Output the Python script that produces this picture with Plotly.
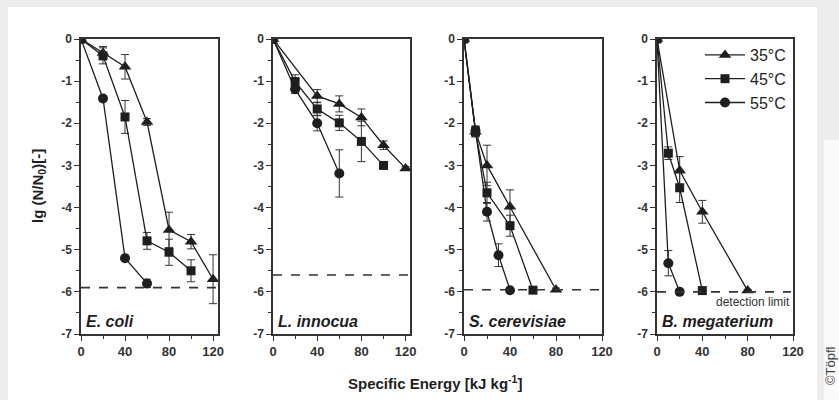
import plotly.graph_objects as go

W, H = 839, 400

# ---------------- data ----------------
species = ["E. coli", "L. innocua", "S. cerevisiae", "B. megaterium"]
temps = ["35°C", "45°C", "55°C"]
detection_limits = [-5.9, -5.6, -5.95, -6.0]

# E. coli
ecoli_35_x = [0, 20, 40, 60, 80, 100, 120]
ecoli_35_y = [0, -0.33, -0.66, -1.97, -4.53, -4.81, -5.7]
ecoli_35_e = [0, 0.15, 0.29, 0.08, 0.42, 0.17, 0.58]
ecoli_45_x = [0, 20, 40, 60, 80, 100]
ecoli_45_y = [0, -0.4, -1.85, -4.79, -5.06, -5.5]
ecoli_45_e = [0, 0.19, 0.39, 0.2, 0.31, 0.26]
ecoli_55_x = [0, 20, 40, 60]
ecoli_55_y = [0, -1.41, -5.2, -5.8]
ecoli_55_e = [0, 0.05, 0.05, 0.1]

# L. innocua
linn_35_x = [0, 40, 60, 80, 100, 120]
linn_35_y = [0, -1.35, -1.54, -1.86, -2.52, -3.07]
linn_35_e = [0, 0.15, 0.19, 0.2, 0.1, 0.04]
linn_45_x = [0, 20, 40, 60, 80, 100]
linn_45_y = [0, -1.01, -1.66, -1.99, -2.43, -3.0]
linn_45_e = [0, 0.16, 0.15, 0.18, 0.48, 0.04]
linn_55_x = [0, 20, 40, 60]
linn_55_y = [0, -1.19, -2.0, -3.19]
linn_55_e = [0, 0.1, 0.18, 0.56]

# S. cerevisiae
scer_35_x = [0, 10, 20, 40, 80]
scer_35_y = [0, -2.2, -3.0, -3.98, -5.95]
scer_35_e = [0, 0.12, 0.48, 0.4, 0.04]
scer_45_x = [0, 10, 20, 40, 60]
scer_45_y = [0, -2.2, -3.65, -4.43, -5.96]
scer_45_e = [0, 0.12, 0.25, 0.25, 0.04]
scer_55_x = [0, 10, 20, 30, 40]
scer_55_y = [0, -2.18, -4.1, -5.13, -5.96]
scer_55_e = [0, 0.12, 0.22, 0.27, 0.04]

# B. megaterium
bmeg_35_x = [0, 20, 40, 80]
bmeg_35_y = [0, -3.12, -4.1, -5.97]
bmeg_35_e = [0, 0.33, 0.27, 0.03]
bmeg_45_x = [0, 10, 20, 40]
bmeg_45_y = [0, -2.71, -3.53, -5.97]
bmeg_45_e = [0, 0.15, 0.35, 0.03]
bmeg_55_x = [0, 10, 20]
bmeg_55_y = [0, -5.32, -6.0]
bmeg_55_e = [0, 0.3, 0.03]

panels = [
    [(ecoli_35_x, ecoli_35_y, ecoli_35_e), (ecoli_45_x, ecoli_45_y, ecoli_45_e), (ecoli_55_x, ecoli_55_y, ecoli_55_e)],
    [(linn_35_x, linn_35_y, linn_35_e), (linn_45_x, linn_45_y, linn_45_e), (linn_55_x, linn_55_y, linn_55_e)],
    [(scer_35_x, scer_35_y, scer_35_e), (scer_45_x, scer_45_y, scer_45_e), (scer_55_x, scer_55_y, scer_55_e)],
    [(bmeg_35_x, bmeg_35_y, bmeg_35_e), (bmeg_45_x, bmeg_45_y, bmeg_45_e), (bmeg_55_x, bmeg_55_y, bmeg_55_e)],
]

x_ticks = [0, 40, 80, 120]
x_minor = [20, 60, 100]
y_ticks = [0, -1, -2, -3, -4, -5, -6, -7]
y_ticktext = ["0", "-1", "-2", "-3", "-4", "-5", "-6", "-7"]
y_minor = [-0.5, -1.5, -2.5, -3.5, -4.5, -5.5, -6.5]

# ---------------- style ----------------
INK = "#1e1e1e"
AX = "#333333"
FONT = "Liberation Sans, Arial, sans-serif"
symbols = ["triangle-up", "square", "circle"]
msizes = [11, 9, 10]

x_px = [(81, 218), (273, 410), (464, 602), (657, 793)]
x_ranges = [[0, 124.5], [0, 124], [0, 120], [0, 120]]
y_px = (39, 334)
ydom = [1 - y_px[1] / H, 1 - y_px[0] / H]

fig = go.Figure()

for p, series in enumerate(panels):
    xa = "x" if p == 0 else f"x{p+1}"
    ya = "y" if p == 0 else f"y{p+1}"
    for s, (xs, ys, es) in enumerate(series):
        fig.add_trace(go.Scatter(
            x=xs, y=ys, xaxis=xa, yaxis=ya,
            mode="lines+markers",
            name=temps[s], legendgroup=temps[s], showlegend=(p == 0),
            line=dict(color=INK, width=1.3),
            marker=dict(symbol=symbols[s], size=msizes[s], color=INK),
            error_y=dict(type="data", array=es, visible=True, color=AX, thickness=1, width=4),
        ))

layout = dict(
    template="none",
    width=W, height=H,
    margin=dict(l=0, r=0, t=0, b=0, pad=0, autoexpand=False),
    paper_bgcolor="#ededed",
    plot_bgcolor="white",
    font=dict(family=FONT, color=AX),
    showlegend=True,
    legend=dict(x=700 / W, y=1 - 38 / H, xanchor="left", yanchor="top",
                bgcolor="rgba(0,0,0,0)", font=dict(size=16, color=INK, family=FONT),
                itemwidth=40, tracegroupgap=0),
)

shapes = [
    # white card
    dict(type="rect", xref="paper", yref="paper", x0=8 / W, x1=817 / W, y0=0, y1=1 - 7 / H,
         fillcolor="white", line=dict(width=0), layer="below"),
    # lighter area at lower right beside the card shadow
    dict(type="rect", xref="paper", yref="paper", x0=824 / W, x1=1, y0=0, y1=1 - 140 / H,
         fillcolor="#fafafa", line=dict(width=0), layer="below"),
]
annotations = []

for p in range(4):
    sx = "" if p == 0 else str(p + 1)
    layout[f"xaxis{sx}"] = dict(
        domain=[x_px[p][0] / W, x_px[p][1] / W],
        anchor=f"y{sx}", range=x_ranges[p], automargin=False,
        showline=True, mirror=True, linecolor=AX, linewidth=1.5,
        showgrid=False, zeroline=False,
        ticks="outside", ticklen=5, tickwidth=1.2, tickcolor=AX,
        tickmode="array", tickvals=x_ticks, ticktext=[str(v) for v in x_ticks],
        minor=dict(tickmode="array", tickvals=x_minor, ticks="outside", ticklen=3, tickwidth=1.2, tickcolor=AX),
        tickfont=dict(size=13, family=FONT, color=AX, weight="bold"),
        fixedrange=True,
    )
    layout[f"yaxis{sx}"] = dict(
        domain=ydom, anchor=f"x{sx}", range=[-7, 0], automargin=False,
        showline=True, mirror=True, linecolor=AX, linewidth=1.5,
        showgrid=False, zeroline=False,
        ticks="outside", ticklen=5, tickwidth=1.2, tickcolor=AX,
        tickmode="array", tickvals=y_ticks, ticktext=y_ticktext,
        minor=dict(tickmode="array", tickvals=y_minor, ticks="outside", ticklen=3, tickwidth=1.2, tickcolor=AX),
        tickfont=dict(size=12, family=FONT, color=AX, weight="bold"),
        fixedrange=True,
    )
    xr = "x" if p == 0 else f"x{p+1}"
    yr = "y" if p == 0 else f"y{p+1}"
    shapes.append(dict(type="line", xref=f"{xr} domain", yref=yr, x0=0, x1=0.985,
                       y0=detection_limits[p], y1=detection_limits[p],
                       line=dict(color=AX, width=1.6, dash="dash")))
    annotations.append(dict(xref=f"{xr} domain", yref=yr, x=0.02, y=-6.7, xanchor="left", yanchor="middle",
                            text=f"<i>{species[p]}</i>", showarrow=False,
                            font=dict(size=16, color=INK, family=FONT, weight="bold")))

annotations.append(dict(xref="x4 domain", yref="y4", x=0.995, y=-6.24, xanchor="right", yanchor="middle",
                        text="detection limit", showarrow=False,
                        font=dict(size=12, color=AX, family=FONT)))
annotations.append(dict(xref="paper", yref="paper", x=38 / W, y=1 - 186 / H, xanchor="center", yanchor="middle",
                        text="lg (N/N<sub>0</sub>)[-]", textangle=-90, showarrow=False,
                        font=dict(size=15, color=INK, family=FONT, weight="bold")))
annotations.append(dict(xref="paper", yref="paper", x=435 / W, y=1 - 382 / H, xanchor="center", yanchor="middle",
                        text="Specific Energy [kJ kg<sup>-1</sup>]", showarrow=False,
                        font=dict(size=15, color=INK, family=FONT, weight="bold")))
annotations.append(dict(xref="paper", yref="paper", x=830 / W, y=1 - 366 / H, xanchor="center", yanchor="middle",
                        text="©Töpfl", textangle=-90, showarrow=False,
                        font=dict(size=13, color="#444444", family=FONT)))

layout["shapes"] = shapes
layout["annotations"] = annotations
fig.update_layout(**layout)

fig.write_html("out.html",
               post_script="document.body.style.margin='0';document.body.style.padding='0';"
                           "document.documentElement.style.overflow='hidden';")
